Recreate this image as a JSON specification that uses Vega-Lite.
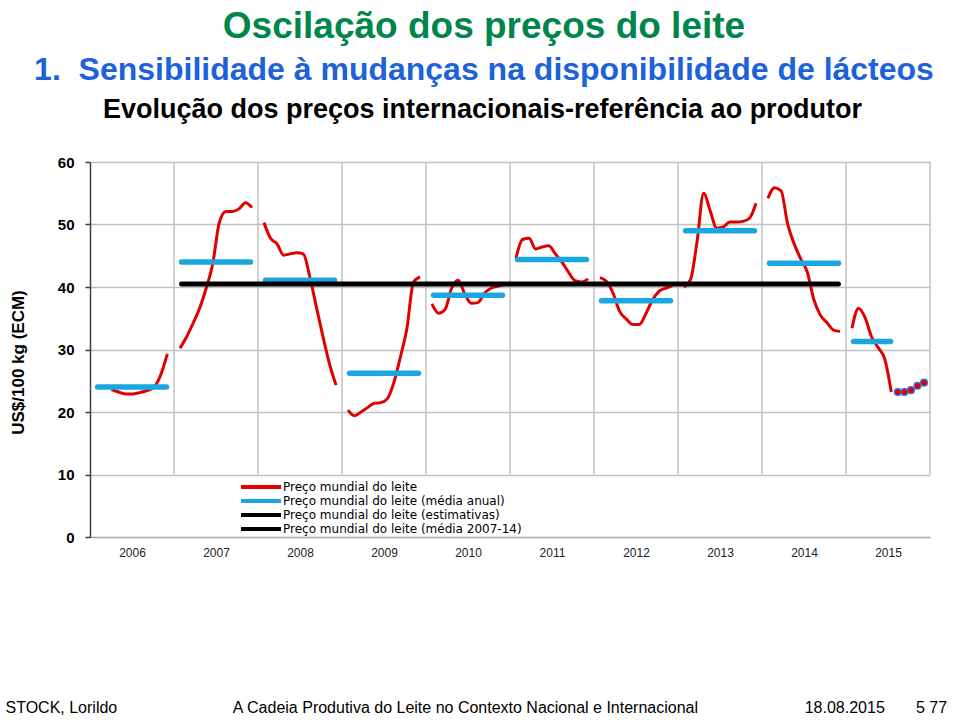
{
  "$schema": "https://vega.github.io/schema/vega-lite/v6.json",
  "width": 840,
  "height": 375,
  "autosize": {"type": "none"},
  "padding": {"left": 90, "top": 162, "right": 30, "bottom": 183},
  "background": "#ffffff",
  "title": {
    "text": "Oscilação dos preços do leite",
    "subtitle": "1.\u00a0 Sensibilidade à mudanças na disponibilidade de lácteos",
    "anchor": "middle",
    "frame": "group",
    "dx": -26,
    "dy": 1,
    "font": "Liberation Sans",
    "fontSize": 37,
    "fontWeight": "bold",
    "color": "#00864b",
    "subtitleFont": "Liberation Sans",
    "subtitleFontSize": 32,
    "subtitleFontWeight": "bold",
    "subtitleColor": "#1c62d8",
    "subtitlePadding": 9,
    "offset": 9
  },
  "datasets": {
    "years": [{"b": 2007}, {"b": 2008}, {"b": 2009}, {"b": 2010}, {"b": 2011}, {"b": 2012}, {"b": 2013}, {"b": 2014}, {"b": 2015}, {"b": 2016}],
    "monthly": [
      {"year": 2006, "t": 2006.255, "v": 23.6}, {"year": 2006, "t": 2006.338, "v": 23.2}, {"year": 2006, "t": 2006.421, "v": 22.9}, {"year": 2006, "t": 2006.505, "v": 22.9}, {"year": 2006, "t": 2006.588, "v": 23.1}, {"year": 2006, "t": 2006.671, "v": 23.4}, {"year": 2006, "t": 2006.755, "v": 23.9}, {"year": 2006, "t": 2006.838, "v": 25.8}, {"year": 2006, "t": 2006.921, "v": 29.3},
      {"year": 2007, "t": 2007.071, "v": 30.2}, {"year": 2007, "t": 2007.149, "v": 32.0}, {"year": 2007, "t": 2007.227, "v": 34.2}, {"year": 2007, "t": 2007.305, "v": 36.6}, {"year": 2007, "t": 2007.383, "v": 39.8}, {"year": 2007, "t": 2007.461, "v": 43.7}, {"year": 2007, "t": 2007.539, "v": 50.3}, {"year": 2007, "t": 2007.617, "v": 52.1}, {"year": 2007, "t": 2007.695, "v": 52.1}, {"year": 2007, "t": 2007.773, "v": 52.5}, {"year": 2007, "t": 2007.851, "v": 53.5}, {"year": 2007, "t": 2007.929, "v": 52.7},
      {"year": 2008, "t": 2008.071, "v": 50.3}, {"year": 2008, "t": 2008.149, "v": 47.8}, {"year": 2008, "t": 2008.227, "v": 46.9}, {"year": 2008, "t": 2008.305, "v": 45.1}, {"year": 2008, "t": 2008.383, "v": 45.3}, {"year": 2008, "t": 2008.461, "v": 45.5}, {"year": 2008, "t": 2008.539, "v": 45.3}, {"year": 2008, "t": 2008.617, "v": 41.6}, {"year": 2008, "t": 2008.695, "v": 36.8}, {"year": 2008, "t": 2008.773, "v": 32.1}, {"year": 2008, "t": 2008.851, "v": 27.7}, {"year": 2008, "t": 2008.929, "v": 24.3},
      {"year": 2009, "t": 2009.071, "v": 20.3}, {"year": 2009, "t": 2009.149, "v": 19.4}, {"year": 2009, "t": 2009.227, "v": 20.0}, {"year": 2009, "t": 2009.305, "v": 20.7}, {"year": 2009, "t": 2009.383, "v": 21.4}, {"year": 2009, "t": 2009.461, "v": 21.5}, {"year": 2009, "t": 2009.539, "v": 22.1}, {"year": 2009, "t": 2009.617, "v": 24.7}, {"year": 2009, "t": 2009.695, "v": 28.8}, {"year": 2009, "t": 2009.773, "v": 33.4}, {"year": 2009, "t": 2009.851, "v": 40.8}, {"year": 2009, "t": 2009.929, "v": 41.6},
      {"year": 2010, "t": 2010.071, "v": 37.3}, {"year": 2010, "t": 2010.149, "v": 35.8}, {"year": 2010, "t": 2010.227, "v": 36.4}, {"year": 2010, "t": 2010.305, "v": 39.8}, {"year": 2010, "t": 2010.383, "v": 41.1}, {"year": 2010, "t": 2010.461, "v": 38.9}, {"year": 2010, "t": 2010.539, "v": 37.4}, {"year": 2010, "t": 2010.617, "v": 37.5}, {"year": 2010, "t": 2010.695, "v": 39.0}, {"year": 2010, "t": 2010.773, "v": 39.8}, {"year": 2010, "t": 2010.851, "v": 40.1}, {"year": 2010, "t": 2010.929, "v": 40.4},
      {"year": 2011, "t": 2011.071, "v": 44.6}, {"year": 2011, "t": 2011.149, "v": 47.6}, {"year": 2011, "t": 2011.227, "v": 47.8}, {"year": 2011, "t": 2011.305, "v": 46.1}, {"year": 2011, "t": 2011.383, "v": 46.4}, {"year": 2011, "t": 2011.461, "v": 46.6}, {"year": 2011, "t": 2011.539, "v": 45.3}, {"year": 2011, "t": 2011.617, "v": 44.0}, {"year": 2011, "t": 2011.695, "v": 42.4}, {"year": 2011, "t": 2011.773, "v": 41.0}, {"year": 2011, "t": 2011.851, "v": 40.8}, {"year": 2011, "t": 2011.929, "v": 41.3},
      {"year": 2012, "t": 2012.071, "v": 41.5}, {"year": 2012, "t": 2012.149, "v": 40.9}, {"year": 2012, "t": 2012.227, "v": 39.0}, {"year": 2012, "t": 2012.305, "v": 36.1}, {"year": 2012, "t": 2012.383, "v": 34.9}, {"year": 2012, "t": 2012.461, "v": 34.0}, {"year": 2012, "t": 2012.539, "v": 34.0}, {"year": 2012, "t": 2012.617, "v": 35.7}, {"year": 2012, "t": 2012.695, "v": 37.9}, {"year": 2012, "t": 2012.773, "v": 39.3}, {"year": 2012, "t": 2012.851, "v": 39.8}, {"year": 2012, "t": 2012.929, "v": 40.2},
      {"year": 2013, "t": 2013.071, "v": 40.0}, {"year": 2013, "t": 2013.149, "v": 41.2}, {"year": 2013, "t": 2013.227, "v": 47.3}, {"year": 2013, "t": 2013.305, "v": 55.0}, {"year": 2013, "t": 2013.383, "v": 52.2}, {"year": 2013, "t": 2013.461, "v": 49.4}, {"year": 2013, "t": 2013.539, "v": 49.6}, {"year": 2013, "t": 2013.617, "v": 50.4}, {"year": 2013, "t": 2013.695, "v": 50.4}, {"year": 2013, "t": 2013.773, "v": 50.5}, {"year": 2013, "t": 2013.851, "v": 51.0}, {"year": 2013, "t": 2013.929, "v": 53.4},
      {"year": 2014, "t": 2014.071, "v": 54.2}, {"year": 2014, "t": 2014.149, "v": 55.9}, {"year": 2014, "t": 2014.227, "v": 55.4}, {"year": 2014, "t": 2014.305, "v": 50.1}, {"year": 2014, "t": 2014.383, "v": 46.9}, {"year": 2014, "t": 2014.461, "v": 44.5}, {"year": 2014, "t": 2014.539, "v": 42.4}, {"year": 2014, "t": 2014.617, "v": 38.0}, {"year": 2014, "t": 2014.695, "v": 35.5}, {"year": 2014, "t": 2014.773, "v": 34.3}, {"year": 2014, "t": 2014.851, "v": 33.1}, {"year": 2014, "t": 2014.929, "v": 32.9},
      {"year": 2015, "t": 2015.071, "v": 33.4}, {"year": 2015, "t": 2015.149, "v": 36.6}, {"year": 2015, "t": 2015.227, "v": 35.1}, {"year": 2015, "t": 2015.305, "v": 32.0}, {"year": 2015, "t": 2015.383, "v": 30.3}, {"year": 2015, "t": 2015.461, "v": 28.5}, {"year": 2015, "t": 2015.539, "v": 23.2}
    ],
    "annual": [
      {"year": 2006, "start": 2006.09, "end": 2006.91, "v": 24.0},
      {"year": 2007, "start": 2007.09, "end": 2007.91, "v": 44.0},
      {"year": 2008, "start": 2008.09, "end": 2008.91, "v": 41.1},
      {"year": 2009, "start": 2009.09, "end": 2009.91, "v": 26.2},
      {"year": 2010, "start": 2010.09, "end": 2010.91, "v": 38.7},
      {"year": 2011, "start": 2011.09, "end": 2011.91, "v": 44.4},
      {"year": 2012, "start": 2012.09, "end": 2012.91, "v": 37.8},
      {"year": 2013, "start": 2013.09, "end": 2013.91, "v": 49.0},
      {"year": 2014, "start": 2014.09, "end": 2014.91, "v": 43.8},
      {"year": 2015, "start": 2015.09, "end": 2015.53, "v": 31.3}
    ],
    "average": [{"start": 2007.09, "end": 2014.91, "v": 40.5}],
    "estimates": [
      {"t": 2015.617, "v": 23.2}, {"t": 2015.695, "v": 23.2}, {"t": 2015.773, "v": 23.5}, {"t": 2015.851, "v": 24.2}, {"t": 2015.929, "v": 24.7}
    ]
  },
  "layer": [
    {
      "data": {"name": "years"},
      "mark": {"type": "rule", "color": "#c0c0c0", "strokeWidth": 1.5},
      "encoding": {
        "x": {
          "field": "b", "type": "quantitative",
          "axis": {
            "orient": "top", "title": "Evolução dos preços internacionais-referência ao produtor",
            "labels": false, "ticks": false, "domain": false, "grid": false,
            "titleFont": "Liberation Sans", "titleFontSize": 27, "titleFontWeight": "bold", "titleColor": "#000000",
            "titleX": 392, "titleY": -45, "titleAlign": "center", "titleBaseline": "alphabetic", "titleLimit": 1000
          }
        },
        "y": {"datum": 10, "type": "quantitative"},
        "y2": {"datum": 60}
      }
    },
    {
      "data": {"name": "monthly"},
      "mark": {"type": "line", "strokeWidth": 3, "interpolate": "monotone"},
      "encoding": {
        "x": {
          "field": "t", "type": "quantitative",
          "scale": {"domain": [2006, 2016], "nice": false, "zero": false},
          "axis": {
            "orient": "bottom",
            "values": [2006.5, 2007.5, 2008.5, 2009.5, 2010.5, 2011.5, 2012.5, 2013.5, 2014.5, 2015.5],
            "labelExpr": "'' + floor(datum.value)",
            "ticks": false, "grid": false,
            "domainColor": "#a6a6a6", "domainWidth": 1.5,
            "labelFont": "Liberation Sans", "labelFontSize": 12, "labelColor": "#222222", "labelPadding": 10,
            "title": "STOCK, Lorildo\u00a0\u00a0\u00a0\u00a0\u00a0\u00a0\u00a0\u00a0\u00a0\u00a0\u00a0\u00a0\u00a0\u00a0\u00a0\u00a0\u00a0\u00a0\u00a0\u00a0\u00a0\u00a0\u00a0\u00a0\u00a0\u00a0A Cadeia Produtiva do Leite no Contexto Nacional e Internacional\u00a0\u00a0\u00a0\u00a0\u00a0\u00a0\u00a0\u00a0\u00a0\u00a0\u00a0\u00a0\u00a0\u00a0\u00a0\u00a0\u00a0\u00a0\u00a0\u00a0\u00a0\u00a0\u00a0\u00a018.08.2015\u00a0\u00a0\u00a0\u00a0\u00a0\u00a0\u00a05 77",
            "titleFont": "Liberation Sans", "titleFontSize": 16, "titleFontWeight": "normal", "titleColor": "#000000",
            "titleX": -85, "titleY": 175, "titleAlign": "left", "titleBaseline": "alphabetic", "titleLimit": 1000
          }
        },
        "y": {
          "field": "v", "type": "quantitative",
          "scale": {"domain": [0, 60], "nice": false, "zero": true},
          "axis": {
            "values": [0, 10, 20, 30, 40, 50, 60],
            "title": "US$/100 kg (ECM)",
            "titleFont": "Liberation Sans", "titleFontSize": 17, "titleFontWeight": "bold", "titleColor": "#000000",
            "titleX": -72, "titleY": 200, "titleAngle": 270, "titleAlign": "center", "titleBaseline": "middle",
            "labelFont": "Liberation Sans", "labelFontSize": 15, "labelFontWeight": "bold", "labelColor": "#000000",
            "labelPadding": 11, "tickSize": 5, "tickColor": "#404040", "tickWidth": 1.5,
            "domainColor": "#404040", "domainWidth": 1.5,
            "grid": true,
            "gridColor": {"condition": {"test": "datum.value === 0", "value": "transparent"}, "value": "#c0c0c0"},
            "gridWidth": 1.5
          }
        },
        "detail": {"field": "year"},
        "color": {
          "datum": "Preço mundial do leite",
          "scale": {
            "domain": ["Preço mundial do leite", "Preço mundial do leite (média anual)", "Preço mundial do leite (estimativas)", "Preço mundial do leite (média 2007-14)"],
            "range": ["#e00000", "#1aa7e0", "#000000", "#000000"]
          },
          "legend": {
            "orient": "none", "legendX": 162, "legendY": 316, "title": null,
            "symbolType": "M-8,0H8", "symbolStrokeWidth": 4, "symbolSize": 25, "symbolOffset": 0,
            "labelFont": "DejaVu Sans", "labelFontSize": 12, "labelColor": "#000000",
            "labelOffset": 16, "rowPadding": -3, "padding": 3, "labelLimit": 400
          }
        }
      }
    },
    {
      "data": {"name": "annual"},
      "mark": {"type": "rule", "strokeWidth": 5.5, "strokeCap": "round"},
      "encoding": {
        "x": {"field": "start", "type": "quantitative", "axis": null},
        "x2": {"field": "end"},
        "y": {"field": "v", "type": "quantitative"},
        "color": {"datum": "Preço mundial do leite (média anual)"}
      }
    },
    {
      "data": {"name": "average"},
      "mark": {"type": "rule", "strokeWidth": 5, "strokeCap": "round"},
      "encoding": {
        "x": {"field": "start", "type": "quantitative", "axis": null},
        "x2": {"field": "end"},
        "y": {"field": "v", "type": "quantitative"},
        "color": {"datum": "Preço mundial do leite (média 2007-14)"}
      }
    },
    {
      "data": {"name": "estimates"},
      "mark": {"type": "line", "strokeWidth": 1, "strokeDash": [2, 2]},
      "encoding": {
        "x": {"field": "t", "type": "quantitative", "axis": null},
        "y": {"field": "v", "type": "quantitative"},
        "color": {"datum": "Preço mundial do leite (estimativas)"}
      }
    },
    {
      "data": {"name": "estimates"},
      "mark": {"type": "point", "filled": true, "fill": "#e00000", "stroke": "#3f6fd0", "strokeWidth": 1.5, "size": 45, "opacity": 1},
      "encoding": {
        "x": {"field": "t", "type": "quantitative", "axis": null},
        "y": {"field": "v", "type": "quantitative"}
      }
    }
  ],
  "resolve": {"axis": {"x": "independent"}},
  "config": {"view": {"stroke": null}, "font": "Liberation Sans"}
}
